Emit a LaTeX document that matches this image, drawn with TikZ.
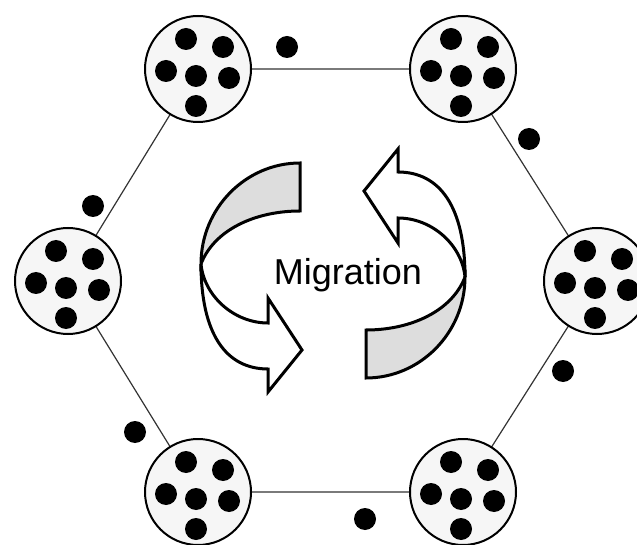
\documentclass[tikz,border=0pt]{standalone}
\usepackage{fontspec}
\setmainfont{Liberation Sans}
\definecolor{circfill}{HTML}{F6F6F6}
\definecolor{bandgray}{HTML}{DDDDDD}
\definecolor{linkgray}{HTML}{333333}
\begin{document}
\begin{tikzpicture}[x=1pt,y=-1pt,
  cluster/.style={circle,draw=black,line width=2pt,fill=circfill,minimum size=106pt,inner sep=0pt},
  link/.style={draw=linkgray,line width=1.2pt},
  band/.style={draw=black,line width=3pt,line join=miter}]
\useasboundingbox (0,0) rectangle (637,545);
\clip (0,0) rectangle (637,545);
% connectors (drawn first, behind the circles)
\coordinate (ctl) at (198,69);
\coordinate (ctr) at (463,69);
\coordinate (cl) at (68,281);
\coordinate (cr) at (597,281);
\coordinate (cbl) at (198,492);
\coordinate (cbr) at (463,492);
\draw[link] (ctl) -- (ctr) -- (cr) -- (cbr) -- (cbl) -- (cl) -- cycle;
% clusters
\node[cluster] (tl) at (ctl) {};
\node[cluster] (tr) at (ctr) {};
\node[cluster] (l) at (cl) {};
\node[cluster] (r) at (cr) {};
\node[cluster] (bl) at (cbl) {};
\node[cluster] (br) at (cbr) {};
\foreach \n in {tl,tr,l,r,bl,br}{
  \foreach \dx/\dy in {-12/-30,25/-22,-32/2,-2/7,31/9,-2/37}{
    \fill ([shift={(\dx,\dy)}]\n.center) circle (11);
  }
}
% free dots
\foreach \x/\y in {287/47,529/139,93/206,563/371,135/432,365/519}{
  \fill (\x,\y) circle (11);
}
% left rotating arrow
\filldraw[band,fill=bandgray] (201,264) .. controls (201,208) and (246,163) .. (300,163)
  -- (300,211) .. controls (255,211) and (214,230) .. cycle;
\filldraw[band,fill=white] (201,264) .. controls (201,334) and (226,369) .. (268,369)
  -- (268,392) -- (302,350) -- (268,298) -- (268,323)
  .. controls (234,323) and (204,296) .. cycle;
% right rotating arrow (point reflection of the left one)
\begin{scope}[rotate around={180:(333,270.5)}]
\filldraw[band,fill=bandgray] (201,264) .. controls (201,208) and (246,163) .. (300,163)
  -- (300,211) .. controls (255,211) and (214,230) .. cycle;
\filldraw[band,fill=white] (201,264) .. controls (201,334) and (226,369) .. (268,369)
  -- (268,392) -- (302,350) -- (268,298) -- (268,323)
  .. controls (234,323) and (204,296) .. cycle;
\end{scope}
\node[anchor=base,font=\fontsize{36}{40}\selectfont,inner sep=0pt] (mig) at (348,285) {Migration};
\end{tikzpicture}
\end{document}
